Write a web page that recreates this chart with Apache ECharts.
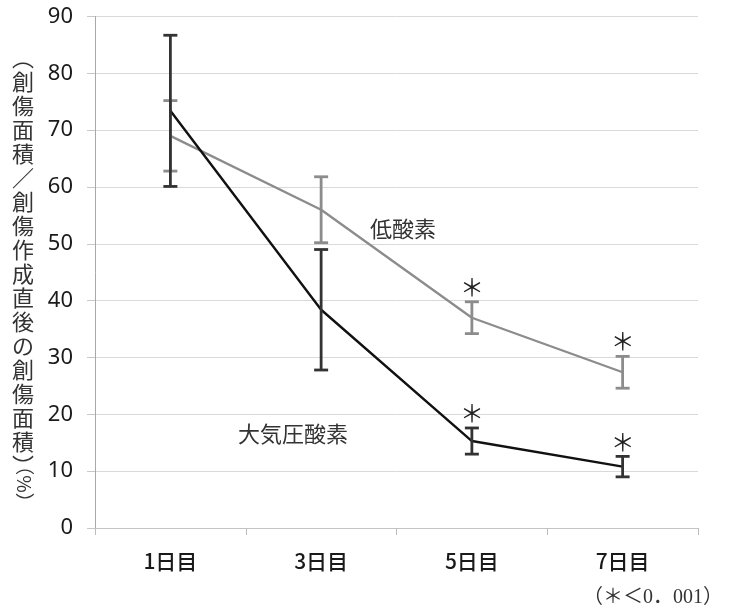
<!DOCTYPE html>
<html>
<head>
<meta charset="utf-8">
<script src="https://cdn.jsdelivr.net/npm/echarts@6/dist/echarts.min.js"></script>
<style>
  html, body { margin: 0; padding: 0; background: #fff; }
  #chart { width: 732px; height: 615px; }
</style>
</head>
<body>
<div id="chart"></div>
<script>
// Wound area ratio over time, mean ± SD, normoxia vs hypoxia
const categories = ['1日目', '3日目', '5日目', '7日目'];
const yTicks = [0, 10, 20, 30, 40, 50, 60, 70, 80, 90];

const airMean = [73.4, 38.4, 15.3, 10.8];   // 大気圧酸素
const airSd   = [13.3, 10.6, 2.3, 1.8];
const airSig  = [false, false, true, true];

const lowMean = [69.0, 56.0, 37.0, 27.4];   // 低酸素
const lowSd   = [6.2, 5.8, 2.8, 2.8];
const lowSig  = [false, false, true, true];

const seriesNames = ['低酸素', '大気圧酸素'];
const yTitle = '︵創傷面積／創傷作成直後の創傷面積︶';
const yUnit = '（%）';
const note = '（＊＜0．001）';

const cjk = '"Noto Sans CJK JP", "Noto Sans", sans-serif';
const serifMix = '"Liberation Serif", "Noto Sans CJK JP", serif';

function errData(mean, sd, sig) {
  return mean.map((m, i) => [i, m - sd[i], m + sd[i], sig[i] ? 1 : 0]);
}

function errRenderer(color) {
  return function (params, api) {
    const lo = api.coord([api.value(0), api.value(1)]);
    const hi = api.coord([api.value(0), api.value(2)]);
    const half = 7;
    const style = { stroke: color, lineWidth: 2.8 };
    const children = [
      { type: 'line', shape: { x1: hi[0], y1: hi[1], x2: lo[0], y2: lo[1] }, style },
      { type: 'line', shape: { x1: hi[0] - half, y1: hi[1], x2: hi[0] + half, y2: hi[1] }, style },
      { type: 'line', shape: { x1: lo[0] - half, y1: lo[1], x2: lo[0] + half, y2: lo[1] }, style }
    ];
    if (api.value(3)) {
      children.push({
        type: 'text',
        style: {
          text: '＊', x: hi[0], y: hi[1] - 3,
          align: 'center', verticalAlign: 'bottom',
          fontSize: 24, fontFamily: cjk, fill: '#222'
        }
      });
    }
    return { type: 'group', children };
  };
}

const chart = echarts.init(document.getElementById('chart'));
chart.setOption({
  animation: false,
  backgroundColor: '#fff',
  grid: { left: 95, right: 34, top: 16.5, bottom: 87 },
  xAxis: {
    type: 'category',
    data: categories,
    boundaryGap: true,
    axisLine: { lineStyle: { color: '#c4c4c4', width: 1 } },
    axisTick: { show: true, length: 7, lineStyle: { color: '#bdbdbd' } },
    axisLabel: { margin: 23, fontSize: 21, fontFamily: cjk, color: '#1a1a1a', fontWeight: 500 },
    splitLine: { show: false }
  },
  yAxis: {
    type: 'value',
    min: yTicks[0],
    max: yTicks[yTicks.length - 1],
    interval: 10,
    axisLine: { show: true, lineStyle: { color: '#a8a8a8', width: 1 } },
    axisTick: { show: true, length: 8, lineStyle: { color: '#c8c8c8' } },
    axisLabel: { margin: 22, fontSize: 22, fontFamily: '"Noto Sans", sans-serif', color: '#1a1a1a' },
    splitLine: { show: true, lineStyle: { color: '#d9d9d9', width: 1 } }
  },
  series: [
    {
      name: seriesNames[0],
      type: 'line',
      data: lowMean,
      symbol: 'none',
      lineStyle: { color: '#8c8c8c', width: 2.3 },
      z: 2
    },
    {
      name: seriesNames[0] + ' SD',
      type: 'custom',
      data: errData(lowMean, lowSd, lowSig),
      renderItem: errRenderer('#8c8c8c'),
      z: 3
    },
    {
      name: seriesNames[1],
      type: 'line',
      data: airMean,
      symbol: 'none',
      lineStyle: { color: '#111', width: 2.4 },
      z: 4
    },
    {
      name: seriesNames[1] + ' SD',
      type: 'custom',
      data: errData(airMean, airSd, airSig),
      renderItem: errRenderer('#333'),
      z: 5
    }
  ],
  graphic: [
    {
      type: 'text', left: 12, top: 46,
      style: {
        text: yTitle.split('').join('\n'),
        fontSize: 22, lineHeight: 24, fontFamily: cjk, fill: '#333', align: 'center'
      }
    },
    {
      type: 'text', x: 24, y: 484, rotation: -Math.PI / 2,
      style: {
        text: yUnit, fontSize: 19, fontFamily: cjk, fill: '#333',
        align: 'center', verticalAlign: 'middle'
      }
    },
    {
      type: 'text', x: 403, y: 229,
      style: { text: seriesNames[0], fontSize: 22, fontFamily: cjk, fill: '#333', align: 'center', verticalAlign: 'middle' }
    },
    {
      type: 'text', x: 293, y: 434,
      style: { text: seriesNames[1], fontSize: 22, fontFamily: cjk, fill: '#333', align: 'center', verticalAlign: 'middle' }
    },
    {
      type: 'text', x: 723, y: 598,
      style: { text: note, fontSize: 20, fontFamily: serifMix, fill: '#333', align: 'right', verticalAlign: 'middle' }
    }
  ]
});
</script>
</body>
</html>
